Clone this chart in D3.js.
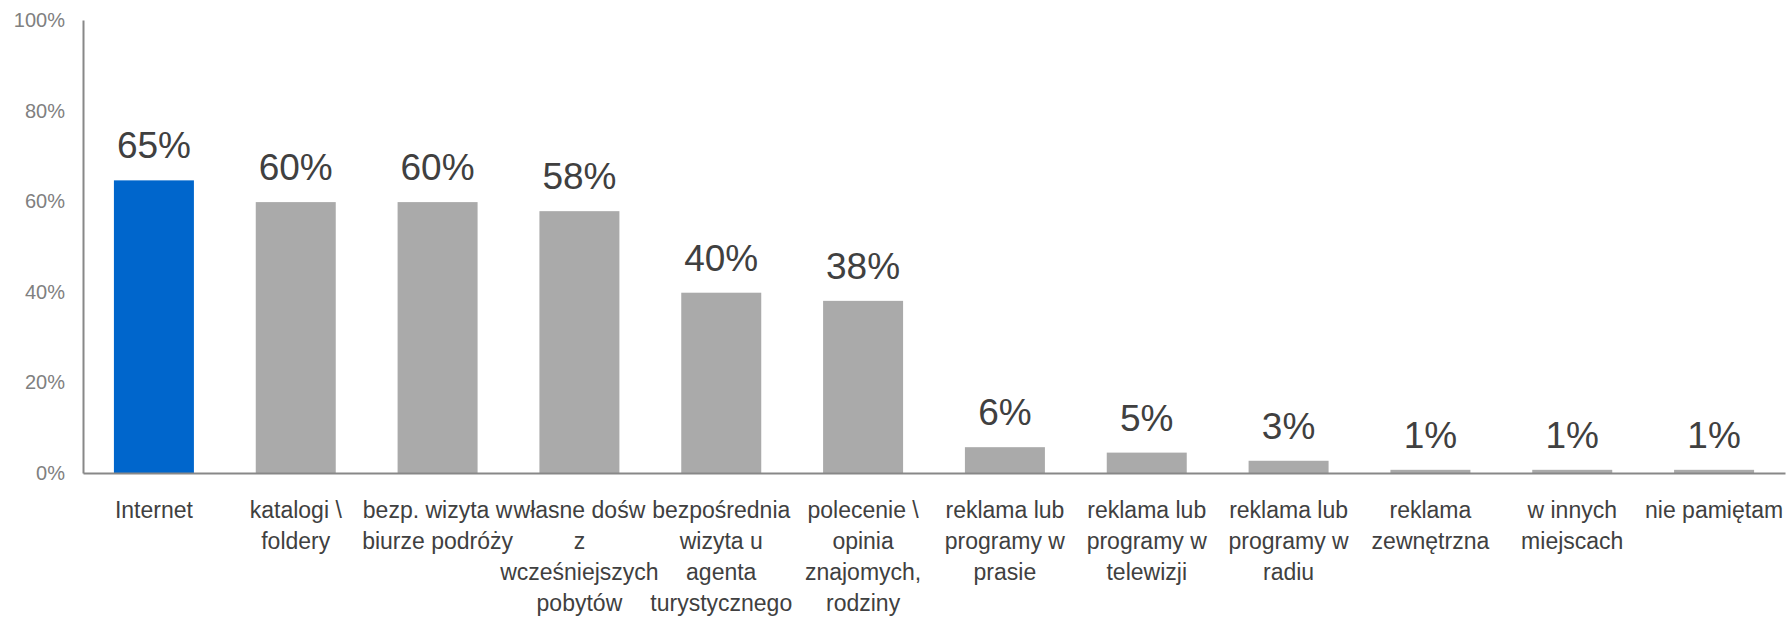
<!DOCTYPE html>
<html>
<head>
<meta charset="utf-8">
<script src="https://cdn.jsdelivr.net/npm/d3@7"></script>
<style>
  body { margin: 0; background: #fff; }
  svg { display: block; }
</style>
</head>
<body>
<div id="chart"></div>
<script>
// data
var categories = [
  ["Internet"],
  ["katalogi \\", "foldery"],
  ["bezp. wizyta w", "biurze podróży"],
  ["własne dośw", "z", "wcześniejszych", "pobytów"],
  ["bezpośrednia", "wizyta u", "agenta", "turystycznego"],
  ["polecenie \\", "opinia", "znajomych,", "rodziny"],
  ["reklama lub", "programy w", "prasie"],
  ["reklama lub", "programy w", "telewizji"],
  ["reklama lub", "programy w", "radiu"],
  ["reklama", "zewnętrzna"],
  ["w innych", "miejscach"],
  ["nie pamiętam"]
];
var values = [64.6, 59.8, 59.8, 57.8, 39.8, 38.0, 5.7, 4.5, 2.7, 0.7, 0.7, 0.7];
var yTicks = [0, 20, 40, 60, 80, 100];

var svgWidth = 1789;
var svgHeight = 618;

var data = categories.map(function(c, i) {
  return { key: i, lines: c, value: values[i] };
});

var svg = d3.select("#chart")
  .append("svg")
  .attr("width", svgWidth)
  .attr("height", svgHeight);

// scales
var x = d3.scaleBand()
  .domain(data.map(d => d.key))
  .range([83, 1785])
  .paddingInner(0.436)
  .paddingOuter(0.218);

var y = d3.scaleLinear()
  .domain([0, 100])
  .range([473, 20]);

// y axis
var yAxis = svg.append("g")
  .attr("transform", "translate(83,0)")
  .call(d3.axisLeft(y).tickValues(yTicks).tickSize(0).tickPadding(18).tickFormat(d => d + "%"));

yAxis.select(".domain").attr("stroke", "#888").attr("stroke-width", 2);
yAxis.selectAll("text")
  .attr("font-family", "Liberation Sans, Arial, sans-serif")
  .attr("font-size", "20px")
  .attr("fill", "#808080");

// bars
svg.selectAll("rect.bar")
  .data(data)
  .enter()
  .append("rect")
  .attr("class", "bar")
  .attr("x", d => x(d.key))
  .attr("y", d => y(d.value))
  .attr("width", x.bandwidth())
  .attr("height", d => y(0) - y(d.value))
  .attr("fill", (d, i) => i === 0 ? "#0066cc" : "#aaaaaa");

// x axis (drawn after bars so the line sits on top)
var xAxis = svg.append("g")
  .attr("transform", "translate(0,473)")
  .call(d3.axisBottom(x).tickSize(0).tickSizeOuter(0).tickFormat(""));

xAxis.select(".domain").attr("stroke", "#888").attr("stroke-width", 2);

// category labels, several lines each
var labels = svg.append("g").selectAll("text")
  .data(data)
  .enter()
  .append("text")
  .attr("x", d => x(d.key) + x.bandwidth() / 2)
  .attr("y", 518)
  .attr("text-anchor", "middle")
  .attr("font-family", "Liberation Sans, Arial, sans-serif")
  .attr("font-size", "23px")
  .attr("fill", "#404040");

labels.selectAll("tspan")
  .data(d => d.lines.map(l => ({ line: l, cx: x(d.key) + x.bandwidth() / 2 })))
  .enter()
  .append("tspan")
  .attr("x", d => d.cx)
  .attr("dy", (d, i) => i === 0 ? 0 : 31)
  .text(d => d.line);

// value labels
svg.append("g").selectAll("text")
  .data(data)
  .enter()
  .append("text")
  .attr("x", d => x(d.key) + x.bandwidth() / 2)
  .attr("y", d => y(d.value) - 22)
  .attr("text-anchor", "middle")
  .attr("font-family", "Liberation Sans, Arial, sans-serif")
  .attr("font-size", "37px")
  .attr("fill", "#404040")
  .text(d => Math.round(d.value) + "%");
</script>
</body>
</html>
